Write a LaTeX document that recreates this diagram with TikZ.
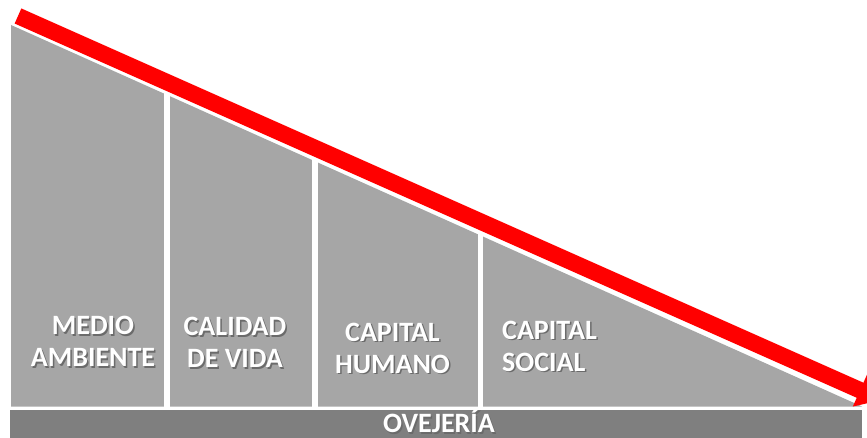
\documentclass[tikz,border=0pt]{standalone}
\usepackage{fontspec}
\setmainfont{Carlito}
\usepackage{tikz}
\usetikzlibrary{arrows.meta}
\usepackage{xcolor}

\definecolor{panelgrey}{RGB}{166,166,166}
\definecolor{bargrey}{RGB}{127,127,127}
\definecolor{shadegrey}{RGB}{70,70,70}

% white text with a small dark shadow
\newcommand{\shtxt}[1]{\rlap{\kern1.5pt\raisebox{-1.5pt}{\textcolor{shadegrey!80}{#1}}}#1}

\begin{document}
\begin{tikzpicture}
  [x=1pt, y=-1pt,
  label/.style={text=white, font=\bfseries\fontsize{28}{32}\selectfont, inner sep=0pt},
  gap/.style={draw=white, line width=6pt}]

\useasboundingbox (0,0) rectangle (867,438);

% grey wedge and the bar below it
\fill[panelgrey] (11,25) -- (862,406.5) -- (11,406.5) -- cycle;
\fill[bargrey] (10,409.5) rectangle (862,445);

% white gaps between the panels
\draw[gap] (167,20) -- (167,407);
\draw[gap] (315,20) -- (315,407);
\draw[gap, line width=5pt] (480.5,20) -- (480.5,407);

% red arrow along the top
\coordinate (arrstart) at (18,16);
\coordinate (arrend) at (882,400);
\draw[red, line width=16.5pt, -{Triangle[width=34pt, length=24pt]}] (arrstart) -- (arrend);

% Labels of the panels
\node[label, align=center] (medio) at (93,342.5) {\shtxt{MEDIO}\\\shtxt{AMBIENTE}};
\node[label, align=center] (calidad) at (235,343.5) {\shtxt{CALIDAD}\\\shtxt{DE VIDA}};
\node[label, align=center] (humano) at (392.5,349) {\shtxt{CAPITAL}\\\shtxt{HUMANO}};
\node[label, align=left, anchor=west] (social) at (502,347) {\shtxt{CAPITAL}\\\shtxt{SOCIAL}};
\node[label, anchor=base] (ovejeria) at (439,432.5) {\shtxt{OVEJERÍA}};

\end{tikzpicture}
\end{document}
